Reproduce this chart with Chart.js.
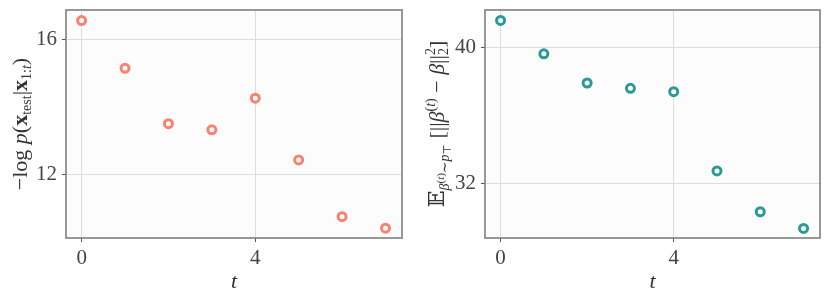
<!DOCTYPE html>
<html>
<head>
<meta charset="utf-8">
<script src="https://cdn.jsdelivr.net/npm/chart.js@4.4.1/dist/chart.umd.min.js"></script>
<style>
  html, body { margin: 0; padding: 0; background: #fff; }
  .row { display: flex; width: 831px; height: 297px; }
  .cell { position: relative; height: 297px; }
</style>
</head>
<body>
<div class="row">
  <div class="cell" style="width:415px"><canvas id="nllChart" width="415" height="297"></canvas></div>
  <div class="cell" style="width:416px"><canvas id="errChart" width="416" height="297"></canvas></div>
</div>
<script>
// --- data ---
const steps = [0, 1, 2, 3, 4, 5, 6, 7];
const nllValues = [16.55, 15.14, 13.51, 13.33, 14.26, 12.44, 10.77, 10.43];
const errValues = [41.58, 39.62, 37.91, 37.60, 37.40, 32.75, 30.36, 29.38];
const xTicks = [0, 4];
const nllTicks = [12, 16];
const errTicks = [32, 40];

const SERIF = "'Liberation Serif', 'DejaVu Serif', serif";

// Frame + light background around the plotting area
const framePlugin = {
    id: 'frame',
    beforeDraw(chart) {
        const { ctx, chartArea: a } = chart;
        ctx.save();
        ctx.fillStyle = '#fcfcfc';
        ctx.fillRect(a.left, a.top, a.right - a.left, a.bottom - a.top);
        ctx.restore();
    },
    afterDraw(chart) {
        const { ctx, chartArea: a } = chart;
        ctx.save();
        ctx.strokeStyle = '#7f7f7f';
        ctx.lineWidth = 1.6;
        ctx.strokeRect(a.left, a.top, a.right - a.left, a.bottom - a.top);
        ctx.restore();
    }
};

// Rotated math-ish label made of runs (text, font, baseline shift)
const mathLabelPlugin = {
    id: 'mathLabel',
    afterDraw(chart, args, opts) {
        if (!opts.runs) return;
        const ctx = chart.ctx;
        ctx.save();
        ctx.fillStyle = '#333';
        ctx.textBaseline = 'alphabetic';
        let total = 0;
        const widths = opts.runs.map(r => {
            ctx.font = r.f;
            const w = r.noAdvance ? 0 : ctx.measureText(r.t).width;
            total += w;
            return w;
        });
        ctx.translate(opts.x, opts.y);
        ctx.rotate(-Math.PI / 2);
        let x = -total / 2;
        opts.runs.forEach((r, i) => {
            ctx.font = r.f;
            ctx.fillText(r.t, x, 7 + (r.dy || 0));
            x += widths[i];
        });
        ctx.restore();
    }
};

const big = '22px ' + SERIF;
const bigIt = 'italic 22px ' + SERIF;
const bigBold = 'bold 22px ' + SERIF;
const sub = '14px ' + SERIF;
const subIt = 'italic 14px ' + SERIF;
const tiny = '11px ' + SERIF;
const tinyIt = 'italic 11px ' + SERIF;

const nllLabel = [
    { t: '\u2212log ', f: big },
    { t: 'p', f: bigIt },
    { t: '(', f: big },
    { t: 'x', f: bigBold },
    { t: 'test', f: sub, dy: 4 },
    { t: '|', f: big },
    { t: 'x', f: bigBold },
    { t: '1:', f: sub, dy: 4 },
    { t: 't', f: subIt, dy: 4 },
    { t: ')', f: big }
];

const errLabel = [
    { t: '\uD835\uDD3C', f: big },
    { t: '\u03B2', f: subIt, dy: 5 },
    { t: '(', f: tiny, dy: 0 },
    { t: 't', f: tinyIt, dy: 0 },
    { t: ')', f: tiny, dy: 0 },
    { t: '\u223C', f: sub, dy: 5 },
    { t: 'p', f: subIt, dy: 5 },
    { t: '\u22A4', f: tiny, dy: 7 },
    { t: ' [||', f: big },
    { t: '\u03B2', f: bigIt },
    { t: '(', f: sub, dy: -9 },
    { t: 't', f: subIt, dy: -9 },
    { t: ')', f: sub, dy: -9 },
    { t: ' \u2212 ', f: big },
    { t: '\u03B2', f: bigIt },
    { t: '||', f: big },
    { t: '2', f: sub, dy: -9, noAdvance: true },
    { t: '2', f: sub, dy: 4 },
    { t: ']', f: big }
];

function makeChart(id, values, color, yMin, yMax, yTicks, yWidth, padRight, labelX, labelRuns) {
    return new Chart(document.getElementById(id), {
        type: 'scatter',
        data: {
            datasets: [{
                data: steps.map((s, i) => ({ x: s, y: values[i] })),
                pointRadius: 4,
                pointHoverRadius: 4,
                pointBorderWidth: 3,
                pointBorderColor: color,
                pointBackgroundColor: '#ffffff'
            }]
        },
        options: {
            responsive: false,
            animation: false,
            layout: { padding: { left: 0, top: 10, right: padRight, bottom: 0 } },
            plugins: {
                legend: { display: false },
                tooltip: { enabled: false },
                mathLabel: { x: labelX, y: 124, runs: labelRuns }
            },
            scales: {
                x: {
                    type: 'linear',
                    min: -0.36,
                    max: 7.38,
                    afterBuildTicks: s => { s.ticks = xTicks.map(v => ({ value: v })); },
                    afterFit: s => { s.height = 59; s.paddingLeft = 0; s.paddingRight = 0; },
                    border: { display: false },
                    grid: { color: '#dedede', lineWidth: 1, tickColor: '#555', tickLength: 4 },
                    ticks: { color: '#444', font: { family: SERIF, size: 21 }, padding: 4 },
                    title: {
                        display: true,
                        text: 't',
                        color: '#333',
                        font: { family: SERIF, size: 22, style: 'italic' },
                        padding: { top: 0, bottom: 2 }
                    }
                },
                y: {
                    type: 'linear',
                    min: yMin,
                    max: yMax,
                    afterBuildTicks: s => { s.ticks = yTicks.map(v => ({ value: v })); },
                    afterFit: s => { s.width = yWidth; s.paddingTop = 0; s.paddingBottom = 0; },
                    border: { display: false },
                    grid: { color: '#dedede', lineWidth: 1, tickColor: '#555', tickLength: 4 },
                    ticks: { color: '#444', font: { family: SERIF, size: 21 }, padding: 5 }
                }
            }
        },
        plugins: [framePlugin, mathLabelPlugin]
    });
}

makeChart('nllChart', nllValues, '#fb8070', 10.14, 16.86, nllTicks, 66, 13, 20, nllLabel);
makeChart('errChart', errValues, '#2a9a94', 28.82, 42.19, errTicks, 70, 11, 22, errLabel);
</script>
</body>
</html>
